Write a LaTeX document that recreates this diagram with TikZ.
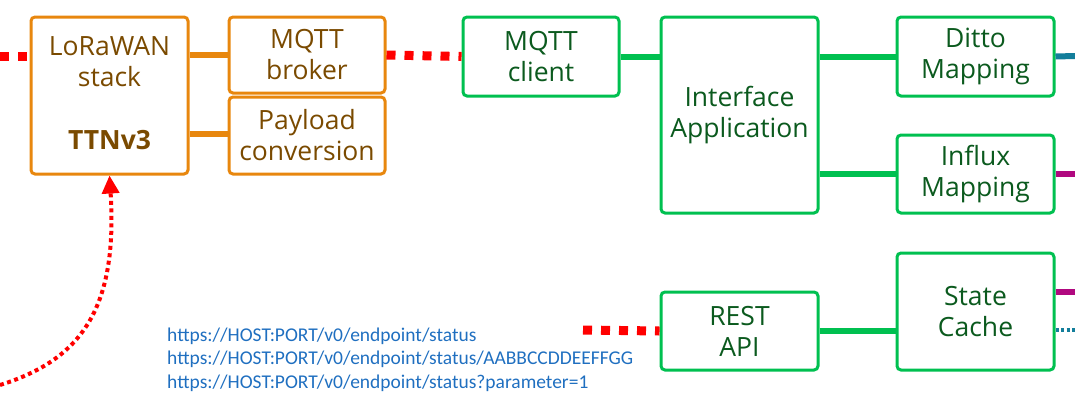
\documentclass[tikz,border=0pt]{standalone}
\usepackage{fontspec}
\setmainfont{Open Sans}
\newfontfamily\urlfont{Carlito}
\usetikzlibrary{arrows.meta}
\definecolor{org}{HTML}{E8870E}
\definecolor{orgtxt}{HTML}{7A4A00}
\definecolor{grn}{HTML}{00C050}
\definecolor{grntxt}{HTML}{0B5A1E}
\definecolor{teal}{HTML}{137E9B}
\definecolor{mag}{HTML}{B0087F}
\definecolor{urlblue}{HTML}{1F6FC0}
\begin{document}
\begin{tikzpicture}[x=1pt,y=-1pt,
  ob/.style={draw=org,line width=3pt,rounded corners=4pt,text=orgtxt,align=center,font=\fontsize{26.5}{31}\selectfont,inner sep=0pt},
  gb/.style={draw=grn,line width=3pt,rounded corners=4pt,text=grntxt,align=center,font=\fontsize{26.5}{31}\selectfont,inner sep=0pt},
  oc/.style={org,line width=6pt},
  gc/.style={grn,line width=6pt},
  rd/.style={red,line width=9pt,dash pattern=on 9pt off 9pt},
  url/.style={urlblue,font=\urlfont\fontsize{19.5}{22}\selectfont,anchor=west,inner sep=0pt}]
\useasboundingbox (0,0) rectangle (1075,413);
\node[ob,minimum width=157pt,minimum height=157pt] (lora) at (109.5,95.5) {};
\node[orgtxt,font=\fontsize{26.5}{31}\selectfont,align=center] (lt) at (109.5,62) {LoRaWAN\\stack};
\node[orgtxt,font=\bfseries\fontsize{26.5}{31}\selectfont] (ttn) at (109.5,140) {TTNv3};
\node[ob,minimum width=156pt,minimum height=76pt] (broker) at (307,55) {MQTT\\broker};
\node[ob,minimum width=156pt,minimum height=77pt] (payload) at (307,135.5) {Payload\\conversion};
\node[gb,minimum width=156pt,minimum height=79pt] (client) at (541,56.5) {MQTT\\client};
\node[gb,minimum width=157pt,minimum height=196pt] (iface) at (739.5,115) {Interface\\Application};
\node[gb,minimum width=157pt,minimum height=79pt] (ditto) at (975.5,56.5) {Ditto\\Mapping};
\node[gb,minimum width=157pt,minimum height=78pt] (influx) at (975.5,174) {Influx\\Mapping};
\node[gb,minimum width=157pt,minimum height=78pt] (rest) at (739.5,331) {REST\\API};
\node[gb,minimum width=157pt,minimum height=117pt] (state) at (975.5,311.5) {State\\Cache};
\coordinate (l0) at (0,56);
\coordinate (r1) at (1075,56);
\coordinate (r2) at (1075,174);
\coordinate (r3) at (1075,292);
\coordinate (r4) at (1075,330);
\coordinate (rs) at (583,330);
\coordinate (cs) at (0,385);
\draw[oc] (lora.east|-broker) -- (broker.west);
\draw[oc] (lora.east|-0,134) -- (payload.west|-0,134);
\draw[rd] (l0) -- (lora.west|-l0);
\draw[rd] (broker.east) -- (client.west);
\draw[gc] (client.east) -- (iface.west|-client.east);
\draw[gc] (iface.east|-ditto) -- (ditto.west);
\draw[gc] (iface.east|-influx) -- (influx.west);
\draw[gc] (rest.east) -- (state.west|-rest.east);
\draw[rd] (rs) -- (rest.west);
\draw[teal,line width=6pt] (ditto.east) -- (r1);
\draw[mag,line width=6pt] (influx.east) -- (r2);
\draw[mag,line width=6pt] (state.east|-r3) -- (r3);
\draw[teal,line width=4pt,dash pattern=on 3pt off 2.5pt] (state.east|-r4) -- (r4);
\draw[red,line width=4pt,dash pattern=on 4pt off 3.5pt,-{Triangle[length=18pt,width=17pt]}] (cs) .. controls (80,360) and (118,310) .. (lora.south);
\node[url] (u1) at (167,336) {https://HOST:PORT/v0/endpoint/status};
\node[url] (u2) at (167,359) {https://HOST:PORT/v0/endpoint/status/AABBCCDDEEFFGG};
\node[url] (u3) at (167,383) {https://HOST:PORT/v0/endpoint/status?parameter=1};
\end{tikzpicture}
\end{document}
